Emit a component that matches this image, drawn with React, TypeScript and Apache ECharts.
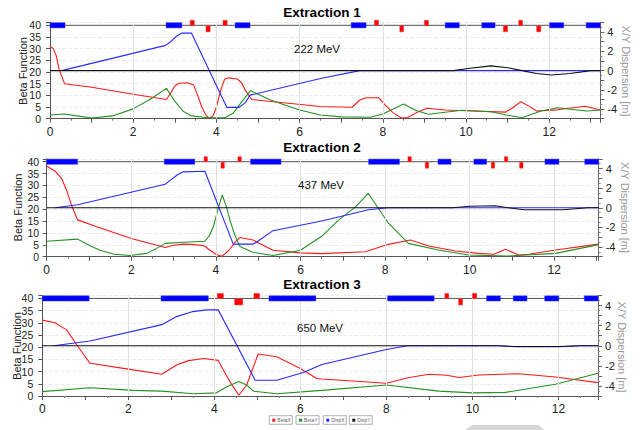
import React, { useEffect, useRef } from "react";
import * as echarts from "echarts";

const FONT = "'Liberation Sans', Arial, sans-serif";

const panelTitles = ["Extraction 1", "Extraction 2", "Extraction 3"];
const energyLabels = ["222 MeV", "437 MeV", "650 MeV"];
const leftAxisName = "Beta Function";
const rightAxisName = "X/Y Dispersion [m]";
const xMaxes = [13.23, 13.05, 12.92];
const xGridTicks = [2, 4, 6, 8, 10, 12];
const legendNames = ["BetaX", "BetaY", "DispX", "DispY"];
const seriesColors = ["#ff1a1a", "#249124", "#2a2aff", "#111111"];
const latticeLevel = 40;

// ---------- Extraction 1 ----------
const betaX1 = [
  [0, 31], [0.08, 30], [0.15, 27], [0.22, 21], [0.35, 15], [1, 13.5], [2, 10.5], [2.8, 8.2],
  [2.9, 11], [3.0, 14], [3.1, 15.2], [3.3, 15.4], [3.45, 14.5], [3.55, 10], [3.65, 5], [3.75, 1.5],
  [3.83, 0.2], [3.92, 1.2], [4.0, 5], [4.1, 12], [4.2, 17], [4.3, 17.5], [4.5, 17], [4.6, 15.5],
  [4.7, 12], [4.85, 8.2], [6.5, 5.2], [7.26, 4.9], [7.45, 8], [7.6, 9], [7.9, 9], [8.05, 6],
  [8.25, 2.5], [8.45, 0.3], [8.6, 0.5], [8.8, 2.5], [9.06, 4.5], [9.5, 3.7], [10, 3.4], [10.95, 2.8],
  [11.15, 5], [11.32, 7.3], [11.5, 5.5], [11.7, 3.3], [12.2, 3.8], [12.86, 5.3], [13.23, 3.7],
];
const betaY1 = [
  [0, 1.6], [0.35, 2], [0.6, 1.3], [1.0, 0.3], [1.5, 1.2], [2.0, 4.2], [2.4, 8.2], [2.8, 13],
  [3.0, 7.5], [3.2, 3.2], [3.4, 1.2], [3.8, 0.4], [4.2, 0.4], [4.4, 2.3], [4.6, 7], [4.82, 12],
  [5.3, 8.0], [6.0, 3.7], [6.5, 1.6], [7, 0.8], [7.7, 0.6], [8.0, 2], [8.5, 6.3], [8.8, 3.5],
  [9.1, 1.9], [9.9, 3.6], [10.6, 3], [11.0, 1.5], [11.35, 0.4], [11.8, 3.3], [12.2, 4.7],
  [12.9, 3.3], [13.23, 3.7],
];
const dispX1 = [
  [0.28, 0], [2.78, 2.62], [2.9, 3.0], [3.05, 3.6], [3.17, 3.9], [3.4, 3.9], [4.25, -3.82],
  [4.55, -3.82], [4.7, -3.3], [4.81, -2.55], [6.53, -0.79], [7.45, 0], [13.23, 0],
];
const dispY1 = [
  [0, 0], [9.7, 0], [10.1, 0.25], [10.6, 0.49], [11.0, 0.3], [11.35, 0], [11.7, -0.3],
  [12.05, -0.45], [12.5, -0.3], [13.0, 0], [13.23, 0],
];
const dipoles1 = [
  [0, 0.36], [2.79, 3.17], [4.45, 4.81], [7.24, 7.6], [9.5, 9.84], [10.38, 10.7], [12.01, 12.35], [12.89, 13.23],
];
const quadsUp1 = [[3.37, 3.47], [4.16, 4.26], [7.8, 7.9], [9.0, 9.1], [11.27, 11.36]];
const quadsDown1 = [[3.75, 3.85], [8.41, 8.5], [10.9, 11.0], [11.7, 11.8]];

// ---------- Extraction 2 ----------
const betaX2 = [
  [0, 38.2], [0.2, 36], [0.35, 33], [0.47, 28], [0.6, 21], [0.73, 15.5], [1.2, 12.5], [2, 7.7],
  [2.8, 3.9], [3.0, 4.8], [3.23, 5.3], [3.5, 5.1], [3.72, 4.6], [3.86, 2.7], [4.0, 1], [4.14, 0.2],
  [4.3, 2.5], [4.45, 6], [4.57, 8.1], [4.88, 7], [5.35, 2.7], [6, 1.6], [6.5, 1.3], [7.53, 2.1],
  [8.08, 5.2], [8.6, 7], [9.03, 4.5], [9.66, 2.4], [10.2, 1.4], [10.57, 1.0], [10.85, 3.1],
  [11.16, 0.7], [11.4, 1.0], [12.03, 2.8], [13.05, 5.3],
];
const betaY2 = [
  [0, 6.5], [0.73, 7.4], [1.0, 4.8], [1.26, 2.7], [1.6, 1], [1.97, 0.5], [2.36, 1.4], [2.6, 3.5],
  [2.8, 5.6], [3.23, 6.1], [3.74, 6.5], [3.85, 9], [3.94, 12.6], [4.05, 20], [4.15, 26], [4.25, 21],
  [4.33, 15.5], [4.45, 9], [4.57, 4.3], [4.88, 1.8], [5.35, 0.5], [6.0, 2.7], [6.5, 8.6],
  [6.9, 15.4], [7.3, 21], [7.6, 26.7], [8.08, 14.1], [8.55, 5.6], [9.26, 2.8], [9.97, 0.7],
  [10.88, 0.3], [12.03, 1.4], [13.05, 5.1],
];
const dispX2 = [
  [0.2, 0], [0.73, 0.31], [2.8, 2.4], [2.95, 2.9], [3.1, 3.4], [3.23, 3.67], [3.74, 3.74],
  [4.41, -3.71], [4.88, -3.71], [5.0, -3.4], [5.35, -2.34], [6.5, -1.35], [7.61, -0.2],
  [8.08, 0], [13.05, 0],
];
const dispY2 = [
  [0, 0], [9.6, 0], [10.0, 0.15], [10.6, 0.2], [10.9, 0], [11.3, -0.2], [12.2, -0.2], [12.8, 0], [13.05, 0],
];
const dipoles2 = [
  [0, 0.73], [2.78, 3.5], [4.82, 5.54], [7.61, 8.34], [9.25, 9.56], [10.1, 10.4], [11.78, 12.11], [12.72, 13.05],
];
const quadsUp2 = [[3.72, 3.8], [4.52, 4.6], [8.54, 8.62], [10.82, 10.9]];
const quadsDown2 = [[4.12, 4.2], [8.95, 9.03], [10.51, 10.59], [11.18, 11.26]];

// ---------- Extraction 3 ----------
const betaX3 = [
  [0, 31.1], [0.3, 30], [0.57, 27], [0.8, 21], [1.11, 13.4], [2, 11], [2.78, 8.9], [3.12, 12.7],
  [3.4, 14.5], [3.75, 15.4], [4.09, 14.6], [4.2, 11], [4.36, 5.9], [4.57, 0.3], [4.75, 4.5],
  [5.02, 17.2], [5.45, 16.1], [6.0, 11.3], [6.38, 7.2], [6.5, 7], [8.0, 5.2], [8.5, 7.5],
  [8.99, 8.9], [9.4, 8.5], [9.69, 7.6], [10.15, 8.6], [11.08, 9.15], [11.93, 7.8], [12.92, 5.5],
];
const betaY3 = [
  [0, 1.8], [1.11, 3.4], [2.12, 2.3], [2.78, 2.0], [3.51, 0.9], [4.05, 1.3], [4.29, 3.8],
  [4.57, 5.9], [4.75, 4.5], [4.91, 2], [5.45, 0.9], [6.5, 2.3], [8.0, 4.5], [9.22, 2.0],
  [10.0, 1.3], [10.77, 1.5], [11.93, 4.8], [12.92, 9.3],
];
const dispX3 = [
  [0.26, 0], [1.11, 0.47], [2.78, 2.1], [3.12, 2.9], [3.5, 3.4], [3.82, 3.57], [4.09, 3.57],
  [4.95, -3.43], [5.45, -3.43], [6.07, -2.66], [6.5, -1.86], [8.0, -0.37], [8.5, 0], [10.6, 0],
  [11.0, -0.1], [12.0, -0.1], [12.5, 0], [12.92, 0],
];
const dispY3 = [
  [0, 0], [10.6, 0], [11.0, -0.08], [12.0, -0.08], [12.5, 0], [12.92, 0],
];
const dipoles3 = [
  [0, 1.09], [2.76, 3.86], [5.27, 6.36], [8.03, 9.11], [10.33, 10.65], [10.95, 11.27], [11.68, 12.01], [12.6, 12.92],
];
const quadsUp3 = [[4.07, 4.21], [4.92, 5.05], [9.36, 9.45], [10.0, 10.1]];
const quadsDown3 = [[4.47, 4.66], [9.68, 9.77]];

const panels = [
  { betaX: betaX1, betaY: betaY1, dispX: dispX1, dispY: dispY1, dip: dipoles1, qu: quadsUp1, qd: quadsDown1 },
  { betaX: betaX2, betaY: betaY2, dispX: dispX2, dispY: dispY2, dip: dipoles2, qu: quadsUp2, qd: quadsDown2 },
  { betaX: betaX3, betaY: betaY3, dispX: dispX3, dispY: dispY3, dip: dipoles3, qu: quadsUp3, qd: quadsDown3 },
];

// layout (pixels)
const gridBoxes = [
  { left: 50, top: 22.5, width: 550.3, height: 96.2 },
  { left: 46.7, top: 158.85, width: 552, height: 97.85 },
  { left: 42.3, top: 295.5, width: 555.7, height: 100.5 },
];
const leftNamePos = [[23, 71], [17.5, 207.5], [16.5, 346]];
const rightNamePos = [[625.5, 71], [624.5, 207.5], [622, 347]];
const leftLabelMargins = [9, 7.5, 9];
const titleTops = [5, 140, 277];
const energyPos = [[294, 49], [298, 185], [297, 328]];

function buildOption() {
  const grid: any[] = [];
  const xAxis: any[] = [];
  const yAxis: any[] = [];
  const series: any[] = [];
  const title: any[] = [];
  const graphic: any[] = [];

  panels.forEach((p, i) => {
    grid.push({ ...gridBoxes[i], containLabel: false });
    xAxis.push({
      type: "value",
      gridIndex: i,
      min: 0,
      max: xMaxes[i],
      interval: 1,
      axisLine: { show: true, onZero: false, lineStyle: { color: "#555" } },
      axisTick: { show: true, length: 4, lineStyle: { color: "#555" } },
      minorTick: { show: true, splitNumber: 2, length: 2, lineStyle: { color: "#777" } },
      axisLabel: {
        fontSize: 12,
        color: "#222",
        margin: 7,
        showMinLabel: true,
        fontFamily: FONT,
        formatter: (v: number) => (Number.isInteger(v) && v % 2 === 0 ? String(v) : ""),
      },
      splitLine: { show: false },
    });
    yAxis.push({
      type: "value",
      gridIndex: i,
      position: "left",
      min: 0,
      max: 41.2,
      interval: 5,
      axisLine: { show: true, lineStyle: { color: "#555" } },
      axisTick: { show: true, length: 4, lineStyle: { color: "#555" } },
      axisLabel: {
        fontSize: 10.5,
        color: "#222",
        margin: leftLabelMargins[i],
        showMinLabel: true,
        hideOverlap: false,
        fontFamily: FONT,
        formatter: (v: number) => (v % 5 === 0 && v <= 40 ? String(v) : ""),
      },
      splitLine: { show: true, lineStyle: { color: "#ececec", type: "dashed", width: 1 } },
    });
    yAxis.push({
      type: "value",
      gridIndex: i,
      position: "right",
      min: -5,
      max: 5,
      interval: 1,
      axisLine: { show: true, lineStyle: { color: "#666" } },
      axisTick: { show: true, length: 4, lineStyle: { color: "#666" } },
      minorTick: { show: true, splitNumber: 2, length: 2, lineStyle: { color: "#888" } },
      axisLabel: {
        fontSize: 11,
        color: "#222",
        margin: 7,
        fontFamily: FONT,
        formatter: (v: number) => (Math.abs(v) <= 4 && v % 2 === 0 ? String(v) : ""),
      },
      splitLine: { show: false },
    });

    const lx = i * 1;
    const ly = i * 2;
    // lattice baseline + vertical grid lines
    series.push({
      type: "line",
      xAxisIndex: lx,
      yAxisIndex: ly,
      data: [[0, latticeLevel], [xMaxes[i], latticeLevel]],
      showSymbol: false,
      symbol: "none",
      silent: true,
      z: 1,
      lineStyle: { color: "#555", width: 1 },
      markLine: {
        silent: true,
        symbol: "none",
        label: { show: false },
        lineStyle: { color: "#e0e0e0", type: "solid", width: 1 },
        data: xGridTicks.map((v) => ({ xAxis: v })),
      },
    });
    const curves = [p.betaX, p.betaY, p.dispX, p.dispY];
    curves.forEach((d, k) => {
      series.push({
        name: legendNames[k],
        type: "line",
        xAxisIndex: lx,
        yAxisIndex: k < 2 ? ly : ly + 1,
        data: d,
        showSymbol: false,
        symbol: "none",
        z: 3 + k,
        lineStyle: { color: seriesColors[k], width: 1.1 },
        itemStyle: { color: seriesColors[k] },
      });
    });
    const lattice: any[] = [];
    p.dip.forEach((e) => lattice.push([e[0], e[1], latticeLevel, 0]));
    p.qu.forEach((e) => lattice.push([e[0], e[1], latticeLevel, 1]));
    p.qd.forEach((e) => lattice.push([e[0], e[1], latticeLevel, -1]));
    series.push({
      type: "custom",
      xAxisIndex: lx,
      yAxisIndex: ly,
      z: 10,
      silent: true,
      clip: false,
      encode: { x: [0, 1], y: 2 },
      data: lattice,
      renderItem: (params: any, api: any) => {
        const s = api.value(0);
        const e = api.value(1);
        const lvl = api.value(2);
        const kind = api.value(3);
        const p1 = api.coord([s, lvl]);
        const p2 = api.coord([e, lvl]);
        const w = Math.max(p2[0] - p1[0], 3);
        let y = p1[1] - 2.6;
        let h = 5.2;
        let fill = "#0000ff";
        if (kind === 1) {
          y = p1[1] - 5;
          h = 5;
          fill = "#ff0000";
        } else if (kind === -1) {
          y = p1[1] + 0.5;
          h = 6;
          fill = "#ff0000";
        }
        return {
          type: "rect",
          shape: { x: p1[0], y, width: w, height: h },
          style: { fill, stroke: kind === 0 ? "#3a3aff" : "#ff3a3a", lineWidth: 0.5 },
        };
      },
    });

    title.push({
      text: panelTitles[i],
      left: "center",
      top: titleTops[i],
      padding: 0,
      textStyle: { fontSize: 13.5, fontWeight: "bold", color: "#000", fontFamily: FONT },
    });
    graphic.push({
      type: "text",
      x: energyPos[i][0],
      y: energyPos[i][1],
      z: 100,
      style: { text: energyLabels[i], fontSize: 11.5, fill: "#111", fontFamily: FONT, verticalAlign: "middle" },
    });
    graphic.push({
      type: "text",
      x: leftNamePos[i][0],
      y: leftNamePos[i][1],
      rotation: Math.PI / 2,
      z: 100,
      style: {
        text: leftAxisName,
        fontSize: 11,
        fill: "#222",
        fontFamily: FONT,
        align: "center",
        verticalAlign: "middle",
      },
    });
    graphic.push({
      type: "text",
      x: rightNamePos[i][0],
      y: rightNamePos[i][1],
      rotation: -Math.PI / 2,
      z: 100,
      style: {
        text: rightAxisName,
        fontSize: 11,
        fill: "#9a9a9a",
        fontFamily: FONT,
        align: "center",
        verticalAlign: "middle",
      },
    });
  });

  // custom legend boxes
  const legendX = [269.3, 296, 323.3, 349.3];
  legendNames.forEach((n, k) => {
    graphic.push({
      type: "group",
      x: legendX[k],
      y: 415.7,
      children: [
        { type: "rect", shape: { x: 0, y: 0, width: 23, height: 8.6 }, style: { fill: "#fff", stroke: "#9a9a9a", lineWidth: 0.8 } },
        { type: "rect", shape: { x: 3, y: 3, width: 3, height: 3 }, style: { fill: seriesColors[k] } },
        { type: "text", x: 8, y: 4.5, style: { text: n, fontSize: 5, fill: "#666", fontFamily: FONT, verticalAlign: "middle" } },
      ],
    });
  });
  graphic.push({
    type: "polygon",
    shape: { points: [[472, 425], [538, 425], [546, 431], [464, 431]] },
    style: { fill: "#d6d6d6" },
  });

  return {
    animation: false,
    backgroundColor: "#ffffff",
    textStyle: { fontFamily: FONT },
    title,
    grid,
    xAxis,
    yAxis,
    series,
    graphic,
  };
}

export default function App() {
  const ref = useRef<HTMLDivElement>(null);
  useEffect(() => {
    if (!ref.current) return;
    const chart = echarts.init(ref.current, null, { renderer: "svg" });
    chart.setOption(buildOption() as any);
    return () => chart.dispose();
  }, []);
  return (
    <div
      ref={ref}
      style={{ position: "fixed", left: 0, top: 0, width: 644, height: 430, background: "#fff" }}
    />
  );
}
